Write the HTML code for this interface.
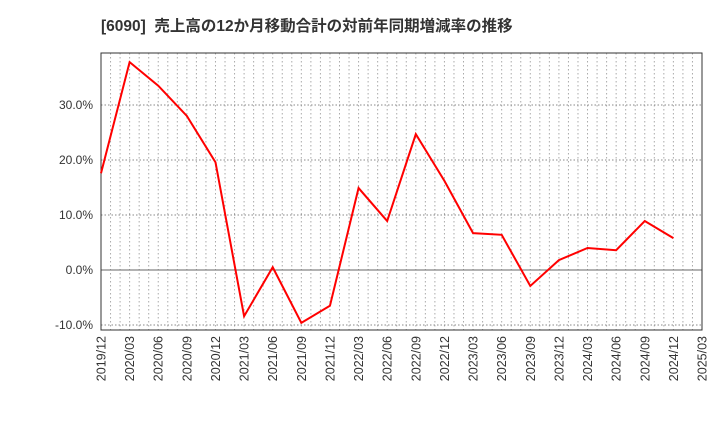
<!DOCTYPE html>
<html><head><meta charset="utf-8"><style>
body{margin:0;background:#fff;font-family:"Liberation Sans","Noto Sans CJK JP",sans-serif}
</style></head><body>
<svg width="720" height="440" xmlns="http://www.w3.org/2000/svg">
<text x="101" y="31" font-size="15.5" font-weight="bold" fill="#333" xml:space="preserve" style="white-space:pre">[6090]  売上高の12か月移動合計の対前年同期増減率の推移</text>
<g id="grid"></g><g id="axes"></g><g id="series"></g>
</svg>
<script>
const categories=["2019/12","2020/03","2020/06","2020/09","2020/12","2021/03","2021/06","2021/09","2021/12","2022/03","2022/06","2022/09","2022/12","2023/03","2023/06","2023/09","2023/12","2024/03","2024/06","2024/09","2024/12","2025/03"];
const values=[17.6,37.8,33.5,28.0,19.6,-8.4,0.5,-9.6,-6.5,14.9,8.9,24.7,16.2,6.7,6.4,-2.9,1.8,4.0,3.6,8.9,5.8];
const yTicks=[-10,0,10,20,30];
const L=101,R=702,T=53,B=330;
const x=i=>L+(R-L)*i/(categories.length-1);
const y=v=>270-v*5.5;
const NS="http://www.w3.org/2000/svg";
function mk(p,t,a){const e=document.createElementNS(NS,t);for(const k in a)e.setAttribute(k,a[k]);document.getElementById(p).appendChild(e);return e;}
for(let m=1;m<(categories.length-1)*3;m++){const xx=L+(R-L)*m/((categories.length-1)*3);
const g=mk('grid','line',{x1:xx,x2:xx,y1:T,y2:B,stroke:'#aaa','stroke-dasharray':'1.5,2.5','stroke-width':1});
}
yTicks.forEach(v=>{const g=mk('grid','line',{x1:L,x2:R,y1:y(v),y2:y(v),stroke:v===0?'#666':'#888','stroke-dasharray':v===0?'':'1.5,2','stroke-width':1});

const t=mk('axes','text',{x:L-8,y:y(v)+4,'text-anchor':'end','font-size':12,fill:'#333'});t.textContent=v.toFixed(1)+'%';
});
const f=mk('axes','rect',{x:L,y:T,width:R-L,height:B-T,fill:'none',stroke:'#333','stroke-width':1});

categories.forEach((c,i)=>{const t=mk('axes','text',{transform:`translate(${x(i)+4.5},${B+6}) rotate(-90)`,'text-anchor':'end','font-size':12.5,fill:'#333'});t.textContent=c;
});
const p=mk('series','polyline',{points:values.map((v,i)=>x(i)+','+y(v)).join(' '),fill:'none',stroke:'#f00','stroke-width':2});

</script></body></html>
